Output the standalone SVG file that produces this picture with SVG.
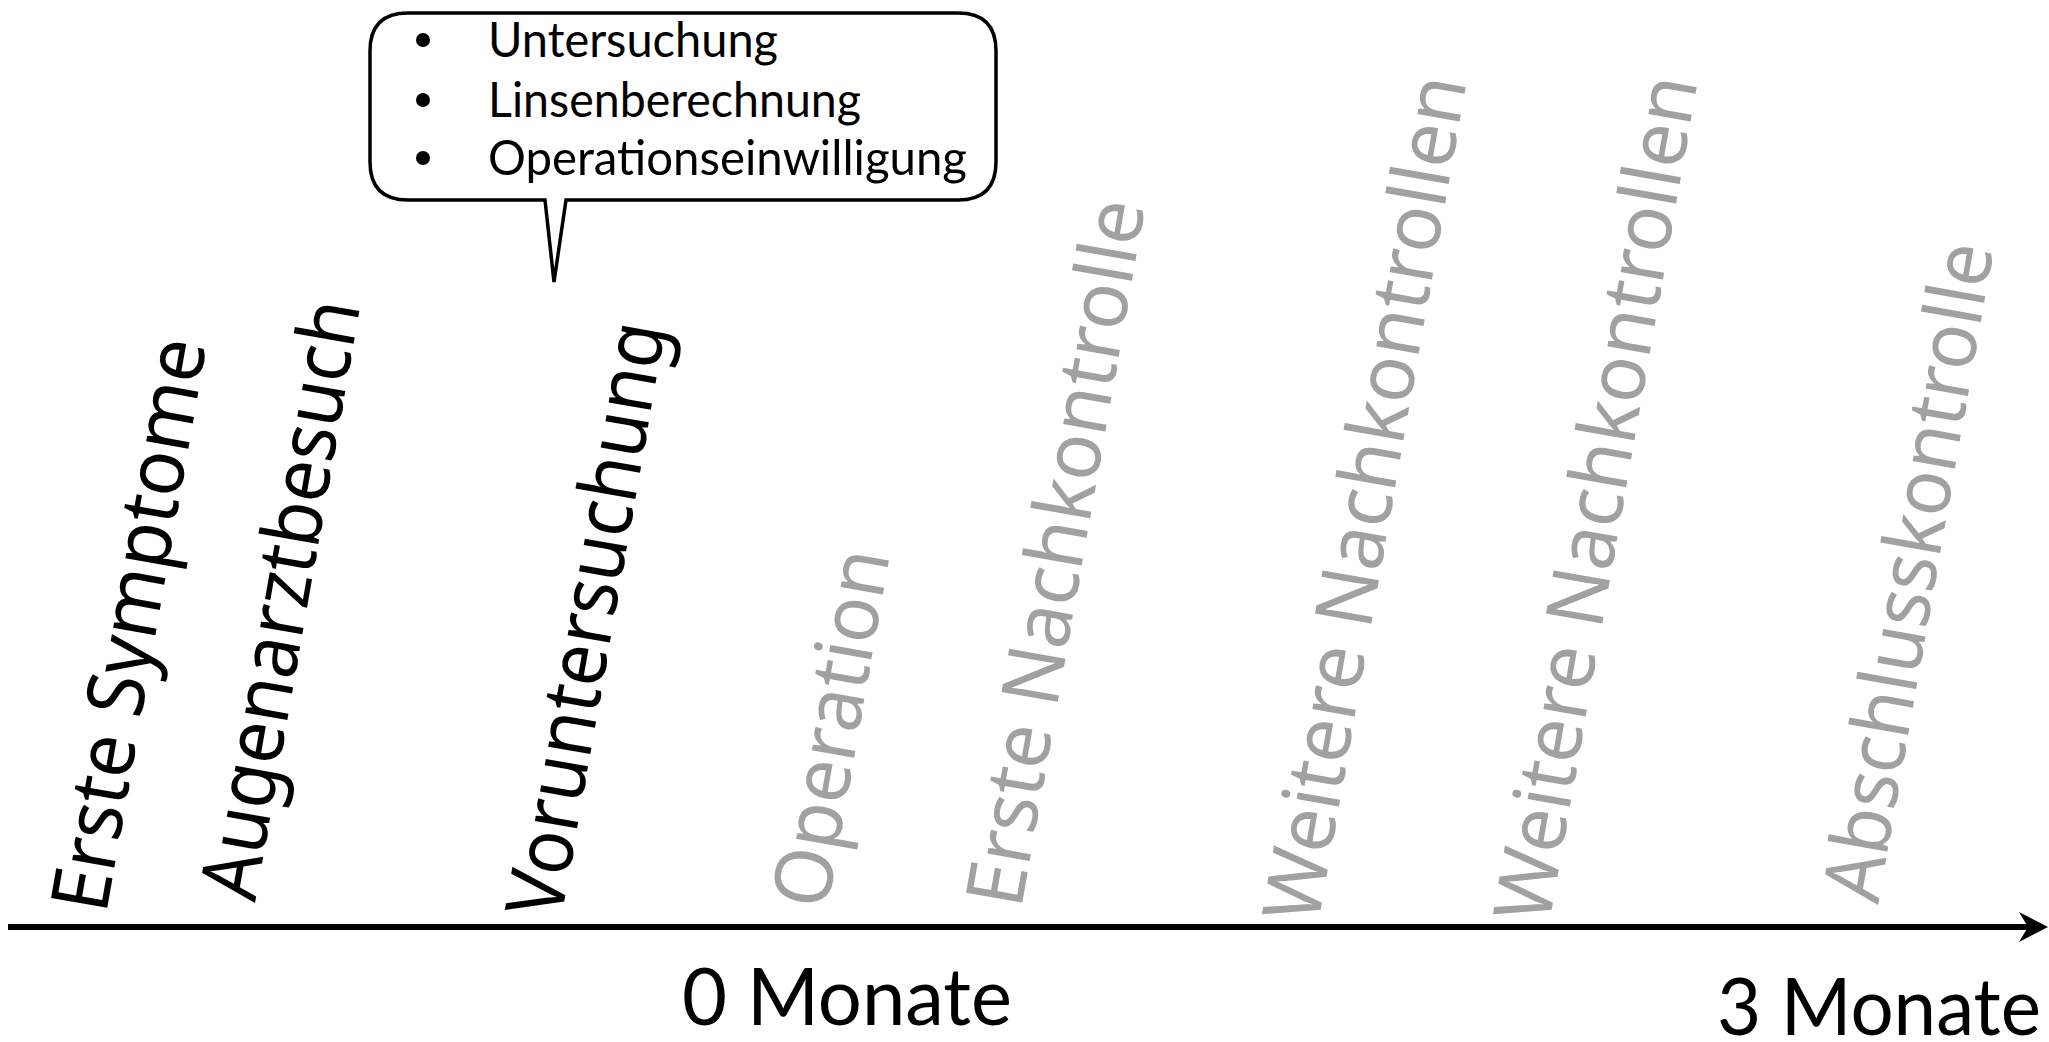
<svg xmlns="http://www.w3.org/2000/svg" width="2049" height="1042" viewBox="0 0 2049 1042">
  <style>
    .lbl { font-family: "Noto Sans", "Open Sans", "DejaVu Sans", sans-serif; font-size: 80px; }
    .blk { fill: #000000; }
    .gry { fill: #a1a1a1; }
    .gs { font-family: Lato, "Noto Sans", sans-serif; fill: #000000; }
    .axis { stroke: #000000; stroke-width: 6; fill: none; }
    .bubble { fill: #ffffff; stroke: #000000; stroke-width: 3.5; stroke-linejoin: miter; }
  </style>
  <rect x="0" y="0" width="2049" height="1042" fill="#ffffff"/>

  <g id="connectors">
    <line class="axis" x1="8" y1="927" x2="2030" y2="927"/>
    <path d="M2048,927 L2019,912 L2028,927 L2019,942 Z" fill="#000000"/>
  </g>

  <g id="node-erste-symptome">
    <text class="lbl blk" transform="translate(106,915) rotate(-80)" textLength="580" lengthAdjust="spacingAndGlyphs">Erste Symptome</text>
  </g>
  <g id="node-augenarztbesuch">
    <text class="lbl blk" transform="translate(255,903) rotate(-80)" textLength="607" lengthAdjust="spacingAndGlyphs">Augenarztbesuch</text>
  </g>
  <g id="node-voruntersuchung">
    <text class="lbl blk" transform="translate(561,920) rotate(-80)" textLength="602" lengthAdjust="spacingAndGlyphs">Voruntersuchung</text>
  </g>
  <g id="node-operation">
    <text class="lbl gry" transform="translate(827,911) rotate(-80)" textLength="362" lengthAdjust="spacingAndGlyphs">Operation</text>
  </g>
  <g id="node-erste-nachkontrolle">
    <text class="lbl gry" transform="translate(1021,910) rotate(-80)" textLength="716" lengthAdjust="spacingAndGlyphs">Erste Nachkontrolle</text>
  </g>
  <g id="node-weitere-nachkontrollen-1">
    <text class="lbl gry" transform="translate(1318,925) rotate(-80)" textLength="857" lengthAdjust="spacingAndGlyphs">Weitere Nachkontrollen</text>
  </g>
  <g id="node-weitere-nachkontrollen-2">
    <text class="lbl gry" transform="translate(1549,925) rotate(-80)" textLength="857" lengthAdjust="spacingAndGlyphs">Weitere Nachkontrollen</text>
  </g>
  <g id="node-abschlusskontrolle">
    <text class="lbl gry" transform="translate(1878,905) rotate(-80)" textLength="667" lengthAdjust="spacingAndGlyphs">Abschlusskontrolle</text>
  </g>

  <g id="node-callout">
    <path class="bubble" d="M408,13 L958,13 Q996,13 996,51 L996,162 Q996,200 958,200 L566,200 L554,282 L545,200 L408,200 Q370,200 370,162 L370,51 Q370,13 408,13 Z"/>
    <circle cx="423" cy="40" r="7" fill="#000000"/>
    <circle cx="423" cy="100" r="7" fill="#000000"/>
    <circle cx="423" cy="158" r="7" fill="#000000"/>
    <text class="gs" x="488" y="57" font-size="49" textLength="290" lengthAdjust="spacingAndGlyphs">Untersuchung</text>
    <text class="gs" x="488" y="117" font-size="49" textLength="373" lengthAdjust="spacingAndGlyphs">Linsenberechnung</text>
    <text class="gs" x="488" y="175" font-size="49" textLength="479" lengthAdjust="spacingAndGlyphs">Operationseinwilligung</text>
  </g>

  <g id="node-0-monate">
    <text class="gs" x="682" y="1025" font-size="80" textLength="330" lengthAdjust="spacingAndGlyphs">0 Monate</text>
  </g>
  <g id="node-3-monate">
    <text class="gs" x="1717" y="1035" font-size="80" textLength="324" lengthAdjust="spacingAndGlyphs">3 Monate</text>
  </g>
</svg>
